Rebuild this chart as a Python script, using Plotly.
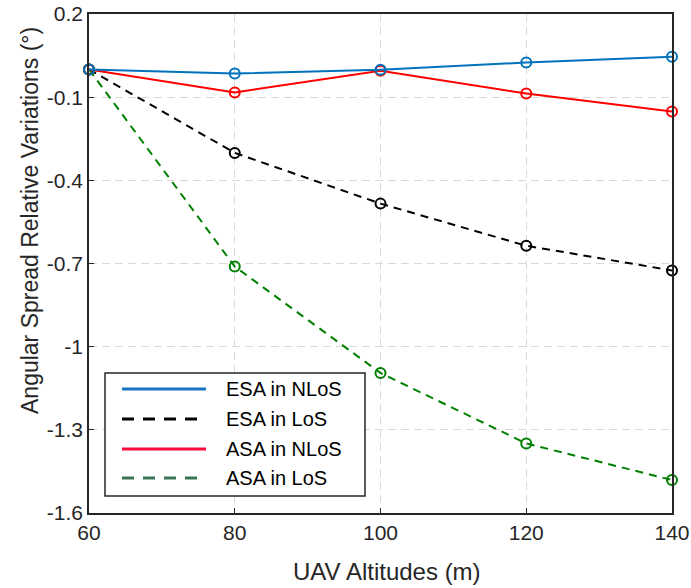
import plotly.graph_objects as go

altitudes = [60, 80, 100, 120, 140]
esa_nlos = [0.0, -0.015, -0.001, 0.025, 0.046]
esa_los = [0.0, -0.301, -0.484, -0.636, -0.725]
asa_nlos = [0.0, -0.083, -0.005, -0.087, -0.152]
asa_los = [0.0, -0.711, -1.095, -1.349, -1.481]

y_ticks = [0.2, -0.1, -0.4, -0.7, -1.0, -1.3, -1.6]
y_tick_labels = ["0.2", "-0.1", "-0.4", "-0.7", "-1", "-1.3", "-1.6"]
x_ticks = [60, 80, 100, 120, 140]

series_names = ["ESA in NLoS", "ESA in LoS", "ASA in NLoS", "ASA in LoS"]
series_values = [esa_nlos, esa_los, asa_nlos, asa_los]
line_colors = ["#0072BD", "#000000", "#FF0000", "#008000"]
legend_colors = ["#1A75C2", "#000000", "#FF0A3C", "#3A7455"]
dashes = ["solid", "8px,6px", "solid", "8px,6px"]
legend_dashes = ["solid", "12px,9px", "solid", "12px,9px"]

# figure geometry (pixels)
W, H = 691, 588
L, R, T, B = 89, 19, 14, 75
PW, PH = W - L - R, H - T - B


def px(xp):
    return (xp - L) / PW


def py(yp):
    return (H - B - yp) / PH


fig = go.Figure()
draw_order = [1, 3, 2, 0]
for i in draw_order:
    c = line_colors[i]
    fig.add_trace(go.Scatter(
        x=altitudes, y=series_values[i], mode="lines+markers", name=series_names[i],
        showlegend=False, cliponaxis=False,
        line=dict(color=c, width=2, dash=dashes[i]),
        marker=dict(symbol="circle-open", size=10, color=c, line=dict(width=2, color=c)),
    ))

font = "Liberation Sans, Arial, sans-serif"
axis_common = dict(
    ticks="inside", ticklen=5, tickcolor="#262626",
    showline=True, linecolor="#262626", linewidth=1.5, mirror=True,
    showgrid=True, gridcolor="#d9d9d9", griddash="8px,5px", gridwidth=1,
    zeroline=False, tickfont=dict(size=21, color="#262626"), automargin=False,
)

shapes = []
annotations = []
# custom legend box
shapes.append(dict(type="rect", xref="paper", yref="paper",
                   x0=px(105), x1=px(365), y0=py(496), y1=py(373),
                   line=dict(color="#262626", width=1.5), fillcolor="white", layer="above"))
legend_rows = [389, 419, 449, 478]
for i, name in enumerate(series_names):
    yy = py(legend_rows[i])
    shapes.append(dict(type="line", xref="paper", yref="paper",
                       x0=px(122), x1=px(206), y0=yy, y1=yy, layer="above",
                       line=dict(color=legend_colors[i], width=3, dash=legend_dashes[i])))
    annotations.append(dict(text=name, xref="paper", yref="paper", x=px(224), y=yy,
                            xanchor="left", yanchor="middle", showarrow=False,
                            font=dict(size=20, color="#000000", family=font)))

annotations.append(dict(
    text="Angular Spread Relative Variations (°)", xref="paper", yref="paper",
    x=px(30), y=py(221), xanchor="center", yanchor="middle", textangle=-90,
    showarrow=False, font=dict(size=23, color="#262626", family=font),
))
annotations.append(dict(
    text="UAV Altitudes (m)", xref="paper", yref="paper",
    x=px(387), y=py(571), xanchor="center", yanchor="middle",
    showarrow=False, font=dict(size=24, color="#262626", family=font),
))

fig.update_layout(
    width=W, height=H,
    margin=dict(l=L, r=R, t=T, b=B),
    paper_bgcolor="white", plot_bgcolor="white",
    font=dict(family=font, size=20, color="#262626"),
    xaxis=dict(range=[60, 140], tickvals=x_ticks, **axis_common),
    yaxis=dict(range=[-1.6, 0.2], tickvals=y_ticks, ticktext=y_tick_labels, **axis_common),
    showlegend=False,
    shapes=shapes,
    annotations=annotations,
)

fig.write_html("out.html")
